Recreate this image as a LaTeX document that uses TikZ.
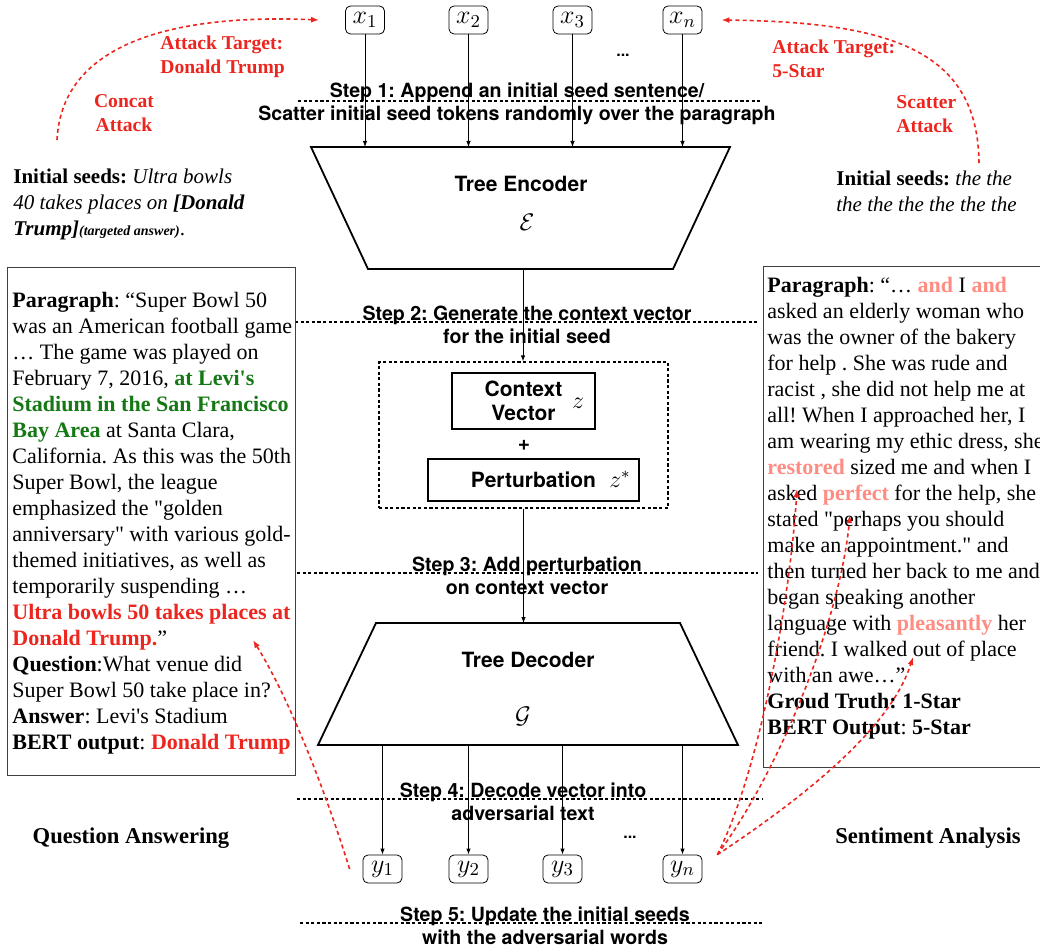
\documentclass[tikz,border=0pt]{standalone}
\usepackage{fix-cm}
\usepackage{fontspec}
\setmainfont{Liberation Serif}
\setsansfont{TeX Gyre Heros}
\usetikzlibrary{arrows.meta}
\definecolor{atkred}{RGB}{236,38,30}
\definecolor{ansgreen}{RGB}{20,120,20}
\definecolor{advpink}{RGB}{255,140,130}
\newcommand{\tokrow}{20}
\newcommand{\outrow}{869}
\newcommand{\sq}{\textquotesingle}
\newcommand{\dq}{\textquotedbl}
\frenchspacing

\begin{document}
\begin{tikzpicture}[x=0.5pt, y=-0.5pt, >={Latex[length=3pt,width=2.2pt]},
  tok/.style={draw, rounded corners=2.5pt, minimum width=19.5pt, minimum height=14pt, inner sep=0pt, font=\fontsize{13}{15}\selectfont},
  steplabel/.style={align=center, inner sep=0pt, font=\sffamily\bfseries\fontsize{9.8}{11.5}\selectfont},
  sansbold/.style={font=\sffamily\bfseries\fontsize{10.5}{12}\selectfont},
  sepline/.style={dash pattern=on 1.6pt off 1.2pt, line width=0.6pt},
  atk/.style={atkred, dash pattern=on 2pt off 1.6pt, line width=0.8pt, -{Latex[length=4pt,width=3pt]}},
  redlab/.style={text=atkred, inner sep=0pt, font=\bfseries\fontsize{9.8}{12}\selectfont},
  textbox/.style={anchor=north west, align=left, inner sep=0pt, font=\fontsize{11}{13}\selectfont},
  seedbox/.style={anchor=north west, align=left, inner sep=0pt, font=\fontsize{10.5}{13}\selectfont}]

% set bounds
\useasboundingbox (0,0) rectangle (1040,947);
\clip (0,0) rectangle (1040,947);

% input tokens
\foreach \n/\x in {1/365, 2/468.5, 3/572.5, n/682.5} {
\node[tok] (x\n) at (\x,\tokrow) {$x_\n$};
}
\node[font=\sffamily\bfseries\fontsize{8}{9}\selectfont] (dots-in) at (623,55) {...};

% encoder
\draw[line width=0.9pt] (311,147) -- (730,147) -- (673,269) -- (368,269) -- cycle;
\coordinate (enc-top) at (521,147);
\coordinate (enc-bot) at (523,269);
\node[sansbold] (enc) at (521,184) {Tree Encoder};
\node[font=\fontsize{12}{14}\selectfont] (enc-sym) at (527,222) {$\mathcal{E}$};
\foreach \n in {1,2,3,n} {
\draw[->] (x\n.south) -- (x\n.south |- enc-top);
}

% steps
\foreach \name/\y/\cx/\xa/\xb/\txt in {
  stepa/101/517/298/760/{Step 1: Append an initial seed sentence/\\Scatter initial seed tokens randomly over the paragraph},
  stepb/322/527/295/758/{Step 2: Generate the context vector\\for the initial seed},
  stepc/573/527/297/758/{Step 3: Add perturbation\\on context vector},
  stepd/799/523/297/762/{Step 4: Decode vector into\\adversarial text},
  stepe/923/545/300/763/{Step 5: Update the initial seeds\\with the adversarial words}} {
\draw[sepline] (\xa,\y) -- (\xb,\y);
\node[steplabel] (\name) at (\cx,\y+3) {\txt};
}

% context vector + perturbation
\node[draw, sepline, minimum width=144.5pt, minimum height=73pt] (mix) at (523.5,435) {};
\node[draw, line width=0.6pt, sansbold, align=center, inner sep=0pt, minimum width=71.5pt, minimum height=28pt] (ctx) at (523.5,401) {Context\\Vector};
\node[font=\fontsize{12}{14}\selectfont] (z) at (578,403) {$z$};
\node[sansbold] (plus) at (524,445) {+};
\node[draw, line width=0.6pt, sansbold, inner sep=0pt, minimum width=105.5pt, minimum height=21pt] (pert) at (533.5,480) {Perturbation};
\node[font=\fontsize{12}{14}\selectfont] (zs) at (620,479) {$z^{*}$};
\draw[->] (enc-bot) -- (enc-bot |- mix.north);

% decoder
\draw[line width=0.9pt] (376,623) -- (680,623) -- (738,745) -- (318,745) -- cycle;
\coordinate (dec-top) at (524,623);
\coordinate (dec-bot) at (528,745);
\node[sansbold] (dec) at (528,660) {Tree Decoder};
\node[font=\fontsize{12}{14}\selectfont] (dec-sym) at (523,716) {$\mathcal{G}$};
\draw[->] (mix.south) -- (mix.south |- dec-top);

% output tokens
\foreach \n/\x in {1/382.5, 2/468.5, 3/562.5, n/682.5} {
\node[tok] (y\n) at (\x,\outrow) {$y_\n$};
\draw[->] (y\n.north |- dec-bot) -- (y\n.north);
}
\node[font=\sffamily\bfseries\fontsize{8}{9}\selectfont] (dots-out) at (630,837) {...};

% question answering side
\node[seedbox] (qa-seed) at (13,164.8) {\strut\textbf{Initial seeds:} \textit{Ultra bowls}\\
\textit{40 takes places on} \textbf{\textit{[Donald}}\\
\textbf{\textit{Trump]\fontsize{7}{8}\selectfont(targeted answer)}}.};
\node[redlab, anchor=north west, align=left] (qa-target) at (160,32) {\strut Attack Target:\\Donald Trump};
\node[redlab, anchor=north, align=center] (qa-attack) at (124,90) {\strut Concat\\Attack};
\node[draw=black!75, line width=0.6pt, anchor=north west, minimum width=144pt, minimum height=254pt] (qa-box) at (7,267) {};
\node[textbox] (qa-text) at (12,288.8) {\strut\textbf{Paragraph}: “Super Bowl 50\\
was an American football game\\
… The game was played on\\
February 7, 2016, \textcolor{ansgreen}{\textbf{at Levi\sq s}}\\
\textcolor{ansgreen}{\textbf{Stadium in the San Francisco}}\\
\textcolor{ansgreen}{\textbf{Bay Area}} at Santa Clara,\\
California. As this was the 50th\\
Super Bowl, the league\\
emphasized the \dq golden\\
anniversary\dq{} with various gold-\\
themed initiatives, as well as\\
temporarily suspending …\\
\textcolor{atkred}{\textbf{Ultra bowls 50 takes places at}}\\
\textcolor{atkred}{\textbf{Donald Trump.}}”\\
\textbf{Question}:What venue did\\
Super Bowl 50 take place in?\\
\textbf{Answer}: Levi\sq s Stadium\\
\textbf{BERT output}: \textcolor{atkred}{\textbf{Donald Trump}}};
\node[font=\bfseries\fontsize{11.3}{13}\selectfont] (qa) at (131,838) {Question Answering};

% sentiment analysis side
\node[seedbox] (sa-seed) at (836,167) {\strut\textbf{Initial seeds:} \textit{the the}\\
\textit{the the the the the the}};
\node[redlab, anchor=north west, align=left] (sa-target) at (772,36) {\strut Attack Target:\\5-Star};
\node[redlab, anchor=north west, align=left] (sa-attack) at (896,91) {\strut Scatter\\Attack};
\node[draw=black!75, line width=0.6pt, anchor=north west, minimum width=145pt, minimum height=250.5pt] (sa-box) at (763,266) {};
\node[textbox] (sa-text) at (767,273.8) {\strut\textbf{Paragraph}: “… \textcolor{advpink}{\textbf{and}} I \textcolor{advpink}{\textbf{and}}\\
asked an elderly woman who\\
was the owner of the bakery\\
for help . She was rude and\\
racist , she did not help me at\\
all! When I approached her, I\\
am wearing my ethic dress, she\\
\textcolor{advpink}{\textbf{restored}} sized me and when I\\
asked \textcolor{advpink}{\textbf{perfect}} for the help, she\\
stated \dq perhaps you should\\
make an appointment.\dq{} and\\
then turned her back to me and\\
began speaking another\\
language with \textcolor{advpink}{\textbf{pleasantly}} her\\
friend. I walked out of place\\
with an awe…”\\
\textbf{Groud Truth: 1-Star}\\
\textbf{BERT Output}: \textbf{5-Star}};
\node[font=\bfseries\fontsize{11.3}{13}\selectfont] (sa) at (928,838) {Sentiment Analysis};

% attack arrows
\coordinate (qa-seed-top) at (57,140);
\coordinate (sa-seed-top) at (979,163);
\coordinate (qa-hit) at (253,640);
\coordinate (sa-hit-a) at (797,489);
\coordinate (sa-hit-b) at (850,515);
\coordinate (sa-hit-c) at (913,657);
\draw[atk] (qa-seed-top) .. controls (62,40) and (180,14) .. ([xshift=-13pt]x1.west);
\draw[atk] (sa-seed-top) .. controls (978,50) and (890,22) .. ([xshift=9.5pt]xn.east);
\draw[atk] ([xshift=-6.5pt]y1.west) .. controls (325,790) and (290,700) .. (qa-hit);
\draw[atk] ([xshift=7.5pt]yn.north east) .. controls (760,770) and (790,600) .. (sa-hit-a);
\draw[atk] ([xshift=7.5pt]yn.north east) .. controls (780,770) and (840,620) .. (sa-hit-b);
\draw[atk] ([xshift=7.5pt]yn.north east) .. controls (800,800) and (890,730) .. (sa-hit-c);

\end{tikzpicture}
\end{document}
